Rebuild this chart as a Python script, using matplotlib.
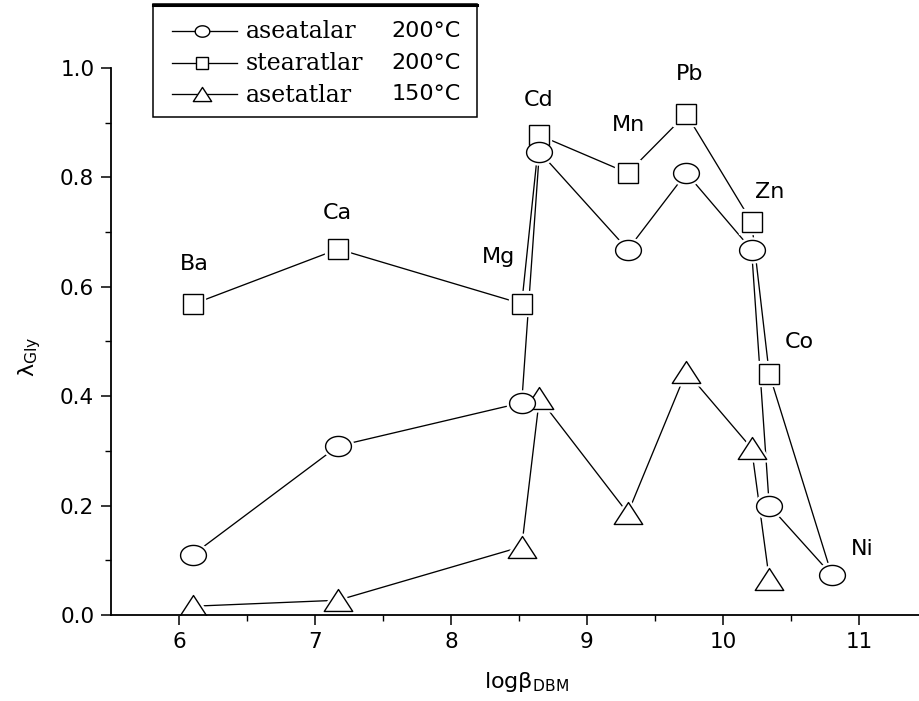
import numpy as np
import matplotlib
matplotlib.use("Agg")
import matplotlib.pyplot as plt
from matplotlib.path import Path
from matplotlib.lines import Line2D
from matplotlib.patches import Rectangle

# ---------------- data ----------------
elements = ['Ba', 'Ca', 'Mg', 'Cd', 'Mn', 'Pb', 'Zn', 'Co', 'Ni']
log_beta = [6.10, 7.17, 8.52, 8.65, 9.30, 9.73, 10.21, 10.34, 10.80]
aseatalar_200 = [0.110, 0.309, 0.388, 0.847, 0.668, 0.808, 0.668, 0.200, 0.073]
stearatlar_200 = [0.568, 0.669, 0.569, 0.877, 0.808, 0.916, 0.719, 0.441, 0.073]
asetatlar_150 = [0.016, 0.027, 0.125, 0.396, 0.186, 0.445, 0.305, 0.066]
legend_words = ['aseatalar', 'stearatlar', 'asetatlar']
legend_temps = ['200°C', '200°C', '150°C']

# element label positions (data coords)
label_x = [6.11, 7.165, 8.346, 8.645, 9.307, 9.755, 10.346, 10.559, 11.026]
label_y = [0.642, 0.735, 0.655, 0.942, 0.895, 0.989, 0.773, 0.500, 0.121]

W, H = 920, 701
fig = plt.figure(figsize=(W / 100, H / 100), dpi=100)
plt.rcParams['mathtext.fontset'] = 'dejavusans'

def fx(px):
    return px / W

def fy(py):
    return 1 - py / H

# axes: x 5.5 at px 111, 136 px/unit ; y 0 at 615, 1 at 68
x0, x1 = 5.5, 11.5
left = 111
right = 111 + (x1 - x0) * 136
ax = fig.add_axes([fx(left), fy(615), (right - left) / W, (615 - 68) / H])
ax.set_xlim(x0, x1)
ax.set_ylim(0, 1.0)

# custom marker shapes (wide, as in the reference)
t = np.linspace(0, 2 * np.pi, 80)
ellipse = Path(np.column_stack([np.cos(t), 0.78 * np.sin(t)]), closed=True)
tri = Path([(0, 0.77), (-1, -0.77), (1, -0.77), (0, 0.77)], closed=True)

series = [
    (aseatalar_200, ellipse, 18.6, list(range(len(aseatalar_200))), 4.4),
    (stearatlar_200, 's', 15.0, list(range(len(stearatlar_200) - 1)), 4.1),
    (asetatlar_150, tri, 20.5, list(range(len(asetatlar_150))), 4.3),
]
lw = 0.95
mew = 1.0
for i, (vals, mk, ms, mev, z) in enumerate(series):
    xs = log_beta[:len(vals)]
    ax.plot(xs, vals, '-', color='black', lw=lw, zorder=2, solid_capstyle='butt')
    ax.plot(xs, vals, linestyle='none', marker=mk, ms=ms, mfc='white', mec='white',
            mew=4.5, markevery=mev, zorder=3, clip_on=True)
    ax.plot(xs, vals, linestyle='none', marker=mk, ms=ms, mfc='white', mec='black',
            mew=mew, markevery=mev, zorder=z, clip_on=True)

for name, lx, ly in zip(elements, label_x, label_y):
    ax.text(lx, ly, name, ha='center', va='center', fontsize=16,
            family='DejaVu Sans', zorder=6)

# spines and ticks
for s in ['top', 'right']:
    ax.spines[s].set_visible(False)
for s in ['left', 'bottom']:
    ax.spines[s].set_linewidth(1.3)
    ax.spines[s].set_zorder(5)
ax.set_xticks([6, 7, 8, 9, 10, 11])
ax.set_xticks(np.arange(6.5, 11.6, 1.0), minor=True)
ax.set_yticks([0.0, 0.2, 0.4, 0.6, 0.8, 1.0])
ax.set_yticklabels(['0.0', '0.2', '0.4', '0.6', '0.8', '1.0'])
ax.set_yticks(np.arange(0.1, 1.0, 0.2), minor=True)
ax.tick_params(which='major', direction='out', length=7, width=1.1,
               labelsize=15.5, pad=5)
ax.tick_params(which='minor', direction='out', length=4.5, width=1.0)
for lab in ax.get_xticklabels() + ax.get_yticklabels():
    lab.set_family('DejaVu Sans')

fig.text(fx(526), fy(682), r'log$\mathregular{β_{DBM}}$', ha='center', va='center',
         fontsize=16, family='DejaVu Sans')
fig.text(fx(30), fy(357), r'$\mathregular{λ_{Gly}}$', ha='center', va='center',
         fontsize=16, family='DejaVu Sans', rotation=90)

# legend box (figure pixel positions)
fig.add_artist(Rectangle((fx(153), fy(117)), fx(477) - fx(153), fy(4) - fy(117),
                         transform=fig.transFigure, fill=False, ec='black', lw=1.1))
fig.add_artist(Line2D([fx(153), fx(477)], [fy(4.5), fy(4.5)], transform=fig.transFigure,
                      color='black', lw=2.2))
leg_markers = [(ellipse, 10.5), ('s', 9.0), (tri, 13.2)]
row_y = [31, 63, 94]
for (mk, ms), ry, word, temp in zip(leg_markers, row_y, legend_words, legend_temps):
    fig.add_artist(Line2D([fx(172), fx(237)], [fy(ry), fy(ry)], transform=fig.transFigure,
                          color='black', lw=lw))
    fig.add_artist(Line2D([fx(202)], [fy(ry)], transform=fig.transFigure, linestyle='none',
                          marker=mk, ms=ms, mfc='white', mec='black', mew=mew))
    fig.text(fx(246), fy(ry + 1), word, ha='left', va='center', fontsize=17,
             family='DejaVu Serif')
    fig.text(fx(461), fy(ry), temp, ha='right', va='center', fontsize=16,
             family='DejaVu Sans')

fig.savefig('out.png', dpi=100)
